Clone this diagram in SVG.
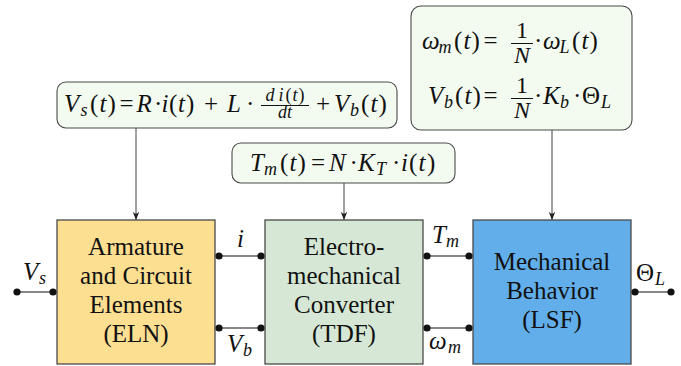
<svg xmlns="http://www.w3.org/2000/svg" width="681" height="366" viewBox="0 0 681 366">
<style>
.blk{stroke:#4a4a4a;stroke-width:1.3}
.eqb{fill:#f3fbf0;stroke:#4a4a4a;stroke-width:1.1}
.lbl{font-family:'Liberation Serif',serif;font-size:25px;fill:#111;text-anchor:middle}
.m{font-family:'Liberation Serif',serif;font-size:25px;fill:#111}
.f{font-size:24px}
.fs{font-size:18px}
.i{font-style:italic}
.s{font-size:18px;font-style:italic}
.w{stroke:#111;stroke-width:1.2;fill:none}
.dot{fill:#111}
.arr{stroke:#444;stroke-width:1;fill:none}
.bar{stroke:#111;stroke-width:1}
</style>
<defs>
<marker id="ah" viewBox="0 0 8 8" refX="8" refY="4" markerWidth="8" markerHeight="8" markerUnits="userSpaceOnUse" orient="auto">
<path d="M0,0.8 L8,4 L0,7.2 L2,4 Z" fill="#222"/>
</marker>
</defs>

<g id="eq1">
<rect class="eqb" x="57" y="82" width="340" height="46" rx="9"/>
<text class="m" y="112"><tspan class="i" x="64">V</tspan><tspan class="s" x="80.5" dy="4">s</tspan><tspan x="90" dy="-4">(</tspan><tspan class="i" x="99.5">t</tspan><tspan x="107.5">)</tspan><tspan x="119.5">=</tspan><tspan class="i" x="136.5">R</tspan><tspan x="154">·</tspan><tspan class="i" x="161.5">i</tspan><tspan x="169">(</tspan><tspan class="i" x="178">t</tspan><tspan x="186">)</tspan><tspan x="204">+</tspan><tspan class="i" x="227">L</tspan><tspan x="246">·</tspan><tspan x="316">+</tspan><tspan class="i" x="334">V</tspan><tspan class="s" x="350" dy="4">b</tspan><tspan x="361" dy="-4">(</tspan><tspan class="i" x="370.5">t</tspan><tspan x="378.5">)</tspan></text>
<text class="m fs" x="285" y="101" text-anchor="middle"><tspan class="i">d</tspan><tspan class="i" dx="4">i</tspan><tspan dx="2">(</tspan><tspan class="i" dx="1">t</tspan><tspan dx="1">)</tspan></text>
<line class="bar" x1="261" y1="105.5" x2="309" y2="105.5"/>
<text class="m fs i" x="285" y="118" text-anchor="middle">dt</text>
</g>

<g id="eq2">
<rect class="eqb" x="232" y="143" width="223" height="40" rx="9"/>
<text class="m" y="171"><tspan class="i" x="250">T</tspan><tspan class="s" x="264" dy="4">m</tspan><tspan x="280" dy="-4">(</tspan><tspan class="i" x="289.5">t</tspan><tspan x="297.5">)</tspan><tspan x="311">=</tspan><tspan class="i" x="329">N</tspan><tspan x="349.5">·</tspan><tspan class="i" x="358">K</tspan><tspan class="s" x="376" dy="4">T</tspan><tspan x="392" dy="-4">·</tspan><tspan class="i" x="401">i</tspan><tspan x="409">(</tspan><tspan class="i" x="418.5">t</tspan><tspan x="427">)</tspan></text>
</g>

<g id="eq3">
<rect class="eqb" x="411" y="6" width="221" height="124" rx="10"/>
<text class="m" y="49"><tspan class="i" x="422">ω</tspan><tspan class="s" x="438.5" dy="4">m</tspan><tspan x="454" dy="-4">(</tspan><tspan class="i" x="463.5">t</tspan><tspan x="471.5">)</tspan><tspan x="483.5">=</tspan><tspan x="534">·</tspan><tspan class="i" x="543">ω</tspan><tspan class="s" x="559.5" dy="4">L</tspan><tspan x="572" dy="-4">(</tspan><tspan class="i" x="581.5">t</tspan><tspan x="589.5">)</tspan></text>
<text class="m f" x="522" y="38" text-anchor="middle">1</text>
<line class="bar" x1="511" y1="43.5" x2="533" y2="43.5"/>
<text class="m f i" x="522" y="63" text-anchor="middle">N</text>
<text class="m" y="104"><tspan class="i" x="428">V</tspan><tspan class="s" x="444" dy="4">b</tspan><tspan x="455" dy="-4">(</tspan><tspan class="i" x="464.5">t</tspan><tspan x="472.5">)</tspan><tspan x="483.5">=</tspan><tspan x="534">·</tspan><tspan class="i" x="543">K</tspan><tspan class="s" x="560" dy="4">b</tspan><tspan x="573" dy="-4">·</tspan><tspan x="582">Θ</tspan><tspan class="s" x="601" dy="4">L</tspan></text>
<text class="m f" x="522" y="93" text-anchor="middle">1</text>
<line class="bar" x1="511" y1="98.5" x2="533" y2="98.5"/>
<text class="m f i" x="522" y="118" text-anchor="middle">N</text>
</g>

<g id="eln">
<rect class="blk" x="57" y="220" width="158" height="144" fill="#fddf92"/>
<text class="lbl" x="136" y="255">Armature</text>
<text class="lbl" x="136" y="284">and Circuit</text>
<text class="lbl" x="136" y="313">Elements</text>
<text class="lbl" x="136" y="342">(ELN)</text>
</g>

<g id="tdf">
<rect class="blk" x="265" y="220" width="158" height="144" fill="#d6e8d5"/>
<text class="lbl" x="344" y="255">Electro-</text>
<text class="lbl" x="344" y="284">mechanical</text>
<text class="lbl" x="344" y="313">Converter</text>
<text class="lbl" x="344" y="342">(TDF)</text>
</g>

<g id="lsf">
<rect class="blk" x="473" y="220" width="158" height="144" fill="#62aeea"/>
<text class="lbl" x="552" y="270">Mechanical</text>
<text class="lbl" x="552" y="299">Behavior</text>
<text class="lbl" x="552" y="328">(LSF)</text>
</g>

<g id="connectors">
<line class="arr" x1="136" y1="128" x2="136" y2="220" marker-end="url(#ah)"/>
<line class="arr" x1="344" y1="183" x2="344" y2="220" marker-end="url(#ah)"/>
<line class="arr" x1="552" y1="130" x2="552" y2="220" marker-end="url(#ah)"/>

<line class="w" x1="17" y1="292" x2="53" y2="292"/>
<circle class="dot" cx="17" cy="292" r="3.6"/><circle class="dot" cx="53" cy="292" r="3.6"/>
<line class="w" x1="219" y1="256" x2="261" y2="256"/>
<circle class="dot" cx="219" cy="256" r="3.6"/><circle class="dot" cx="261" cy="256" r="3.6"/>
<line class="w" x1="219" y1="328" x2="261" y2="328"/>
<circle class="dot" cx="219" cy="328" r="3.6"/><circle class="dot" cx="261" cy="328" r="3.6"/>
<line class="w" x1="427" y1="256" x2="469" y2="256"/>
<circle class="dot" cx="427" cy="256" r="3.6"/><circle class="dot" cx="469" cy="256" r="3.6"/>
<line class="w" x1="427" y1="328" x2="469" y2="328"/>
<circle class="dot" cx="427" cy="328" r="3.6"/><circle class="dot" cx="469" cy="328" r="3.6"/>
<line class="w" x1="635" y1="292" x2="671" y2="292"/>
<circle class="dot" cx="635" cy="292" r="3.6"/><circle class="dot" cx="671" cy="292" r="3.6"/>

<text class="m" y="280"><tspan class="i" x="23">V</tspan><tspan class="s" x="39" dy="4">s</tspan></text>
<text class="m i" x="237" y="247">i</text>
<text class="m" y="352"><tspan class="i" x="227">V</tspan><tspan class="s" x="243" dy="4">b</tspan></text>
<text class="m" y="243"><tspan class="i" x="432">T</tspan><tspan class="s" x="446" dy="4">m</tspan></text>
<text class="m" y="349"><tspan class="i" x="429">ω</tspan><tspan class="s" x="448" dy="4">m</tspan></text>
<text class="m" y="281"><tspan x="636">Θ</tspan><tspan class="s" x="655" dy="4">L</tspan></text>
</g>
</svg>
